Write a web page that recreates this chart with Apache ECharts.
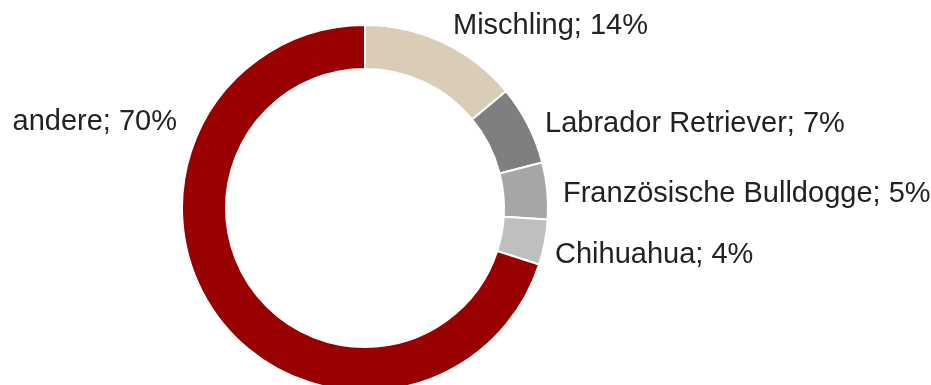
<!DOCTYPE html>
<html>
<head>
<meta charset="utf-8">
<style>
  html, body { margin: 0; padding: 0; background: #ffffff; }
  #chart { width: 931px; height: 385px; }
</style>
<script src="https://cdn.jsdelivr.net/npm/echarts@6/dist/echarts.min.js"></script>
</head>
<body>
<div id="chart"></div>
<script>
// Dog breeds, share in percent (clockwise from 12 o'clock)
const breeds = ['Mischling', 'Labrador Retriever', 'Französische Bulldogge', 'Chihuahua', 'andere'];
const shares = [14, 7, 5, 4, 70];
const sliceColors = ['#d9cdb8', '#7f7f7f', '#a6a6a6', '#bfbfbf', '#990000'];

// Where each label sits: anchor x, centre y, text alignment
const labelSpots = [
  { x: 453, y: 26, align: 'left' },
  { x: 545, y: 124, align: 'left' },
  { x: 563, y: 194, align: 'left' },
  { x: 555, y: 255, align: 'left' },
  { x: 177, y: 122, align: 'right' }
];

const chart = echarts.init(document.getElementById('chart'), null, { renderer: 'canvas' });

chart.setOption({
  backgroundColor: '#ffffff',
  animation: false,
  series: [{
    type: 'pie',
    center: [365, 208],
    radius: [139, 183],
    startAngle: 90,
    clockwise: true,
    avoidLabelOverlap: false,
    itemStyle: { borderColor: '#ffffff', borderWidth: 2 },
    label: {
      show: true,
      position: 'outside',
      formatter: p => p.name + '; ' + p.value + '%',
      fontFamily: 'Liberation Sans',
      fontSize: 29,
      color: '#222222'
    },
    labelLine: { show: false },
    labelLayout: p => {
      const s = labelSpots[p.dataIndex];
      return { x: s.x, y: s.y, align: s.align, verticalAlign: 'middle' };
    },
    data: breeds.map((name, i) => ({
      name: name,
      value: shares[i],
      itemStyle: { color: sliceColors[i] }
    }))
  }]
});
</script>
</body>
</html>
